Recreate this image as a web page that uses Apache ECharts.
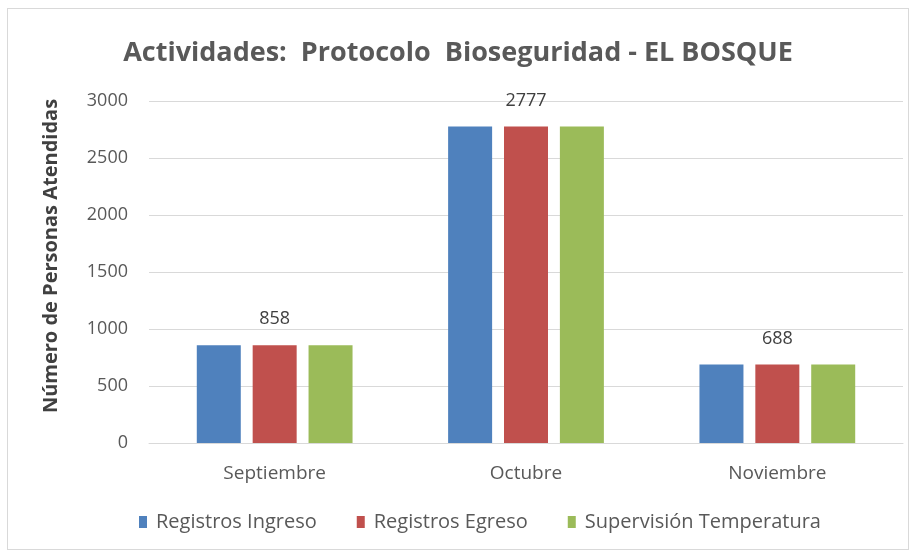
<!DOCTYPE html>
<html>
<head>
<meta charset="utf-8">
<script src="https://cdn.jsdelivr.net/npm/echarts@6/dist/echarts.min.js"></script>
<style>
    html, body { margin: 0; padding: 0; background: #fff; }
    #chart { position: absolute; left: 7px; top: 8px; width: 902px; height: 542px; border: 1px solid #d9d9d9; box-sizing: border-box; }
</style>
</head>
<body>
<div id="chart"></div>
<script>
var months = ['Septiembre', 'Octubre', 'Noviembre']
var seriesNames = ['Registros Ingreso', 'Registros Egreso', 'Supervisión Temperatura']
var ingreso = [858, 2777, 688]
var egreso = [858, 2777, 688]
var temperatura = [858, 2777, 688]
var colors = ['#4f81bd', '#c0504d', '#9bbb59']

var font = 'Open Sans'
var myChart = echarts.init(document.getElementById('chart'))

function makeSeries(name, data, showLabel) {
    return {
        name: name,
        type: 'bar',
        data: data,
        barWidth: 44,
        barGap: '27%',
        label: {
            show: showLabel,
            position: 'top',
            distance: 17,
            color: '#404040',
            fontFamily: font,
            fontSize: 18
        }
    }
}

var option = {
    color: colors,
    title: {
        text: 'Actividades:  Protocolo  Bioseguridad - EL BOSQUE',
        left: 'center',
        top: 26,
        textStyle: {
            fontFamily: font,
            fontSize: 27,
            fontWeight: 'bold',
            color: '#595959'
        }
    },
    // y axis name drawn as text so it can sit a bit above the grid middle like the original
    graphic: [{
        type: 'text',
        x: 43,
        y: 247,
        rotation: Math.PI / 2,
        style: {
            text: 'Número de Personas Atendidas',
            fontFamily: font,
            fontSize: 20,
            fontWeight: 'bold',
            fill: '#404040',
            align: 'center',
            verticalAlign: 'middle'
        }
    }],
    legend: {
        data: seriesNames,
        bottom: 12,
        left: 126,
        itemWidth: 8,
        itemHeight: 12,
        itemGap: 40,
        icon: 'rect',
        textStyle: {
            fontFamily: font,
            fontSize: 20,
            color: '#595959',
            padding: [0, 0, 0, 4]
        }
    },
    grid: {
        left: 141,
        right: 5,
        top: 92,
        bottom: 106,
        containLabel: false
    },
    xAxis: {
        type: 'category',
        data: months,
        axisLine: { lineStyle: { color: '#d9d9d9' } },
        axisTick: { show: false },
        axisLabel: {
            fontFamily: font,
            fontSize: 19,
            color: '#595959',
            margin: 21
        }
    },
    yAxis: {
        type: 'value',
        min: 0,
        max: 3000,
        interval: 500,
        axisLine: { show: false },
        axisTick: { show: false },
        axisLabel: {
            fontFamily: font,
            fontSize: 18,
            color: '#595959',
            margin: 21,
            formatter: function (v) { return String(v) }
        },
        splitLine: { lineStyle: { color: '#d9d9d9' } }
    },
    series: [
        makeSeries(seriesNames[0], ingreso, false),
        makeSeries(seriesNames[1], egreso, true),
        makeSeries(seriesNames[2], temperatura, false)
    ]
}
myChart.setOption(option)
</script>
</body>
</html>
